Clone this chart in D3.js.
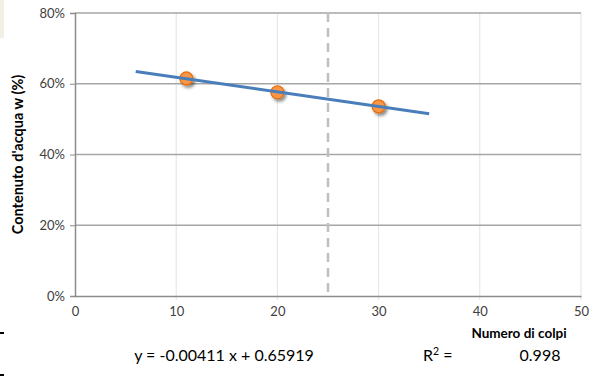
<!DOCTYPE html>
<html><head><meta charset="utf-8">
<script src="https://cdn.jsdelivr.net/npm/d3@7"></script>
<style>html,body{margin:0;padding:0;background:#fff;}svg{display:block;font-family:Lato,"Liberation Sans",sans-serif;}</style>
</head><body>
<svg id="c" width="602" height="376"></svg>
<script>
const blows = [11, 20, 30];
const water = [0.615, 0.576, 0.536];
const trendX = [6, 35];
const slope = -0.00411, intercept = 0.65919;
const xTicks = [0, 10, 20, 30, 40, 50];
const yTicks = [0, 0.2, 0.4, 0.6, 0.8];
const refX = 25;
const eqText = "y = -0.00411 x + 0.65919";
const r2Value = "0.998";

const FONT = "Lato,'Liberation Sans',sans-serif";
const svg = d3.select("#c");
const x = d3.scaleLinear().domain([0, 50]).range([75, 581]);
const y = d3.scaleLinear().domain([0, 0.8]).range([296, 13]);

// decorative edge marks
svg.append("rect").attr("x",0).attr("y",0).attr("width",4).attr("height",38).attr("fill","#f2f0e4");
svg.append("rect").attr("x",0).attr("y",332).attr("width",4).attr("height",2).attr("fill","#000");
svg.append("rect").attr("x",0).attr("y",374).attr("width",4).attr("height",2).attr("fill","#000");

const defs = svg.append("defs");
const f = defs.append("filter").attr("id","sh").attr("x","-50%").attr("y","-50%").attr("width","200%").attr("height","200%");
f.append("feDropShadow").attr("dx",2).attr("dy",2.5).attr("stdDeviation",1.6).attr("flood-color","#000").attr("flood-opacity",0.45);

// vertical gridlines
svg.append("g").selectAll("line").data(xTicks.slice(1)).join("line")
  .attr("x1",d=>x(d)).attr("x2",d=>x(d)).attr("y1",y(0.8)).attr("y2",y(0)+4)
  .attr("stroke","#e3e3e3").attr("stroke-width",1);
// horizontal gridlines
svg.append("g").selectAll("line").data(yTicks.slice(1)).join("line")
  .attr("x1",x(0)).attr("x2",x(50)).attr("y1",d=>y(d)).attr("y2",d=>y(d))
  .attr("stroke","#a6a6a6").attr("stroke-width",1.3);

// axes
const yAxis = svg.append("g").attr("transform",`translate(${x(0)},0)`)
  .call(d3.axisLeft(y).tickValues(yTicks).tickFormat(d3.format(".0%")).tickSize(5).tickPadding(5));
const xAxis = svg.append("g").attr("transform",`translate(0,${y(0)})`)
  .call(d3.axisBottom(x).tickValues(xTicks).tickSize(0).tickPadding(11));
[yAxis,xAxis].forEach(g=>{
  g.select(".domain").attr("stroke","#8c8c8c").attr("stroke-width",1.5);
  g.selectAll(".tick line").attr("stroke","#8c8c8c").attr("stroke-width",1);
  g.selectAll("text").attr("fill","#404040").style("font-size","13px").style("font-family",FONT);
});

// reference dashed line
svg.append("line").attr("x1",x(refX)).attr("x2",x(refX)).attr("y1",y(0.8)).attr("y2",y(0))
  .attr("stroke","#bfbfbf").attr("stroke-width",2.5).attr("stroke-dasharray","9,6");

// markers
svg.append("g").selectAll("circle").data(blows.map((b,i)=>[b,water[i]])).join("circle")
  .attr("cx",d=>x(d[0])).attr("cy",d=>y(d[1])).attr("r",6.5)
  .attr("fill","#f79646").attr("stroke","#e46c0a").attr("stroke-width",1.2).attr("filter","url(#sh)");

// trendline
svg.append("path").datum(trendX.map(t=>[t, slope*t+intercept]))
  .attr("d", d3.line().x(d=>x(d[0])).y(d=>y(d[1])))
  .attr("stroke","#4a7ebb").attr("stroke-width",3).attr("fill","none");

// titles
svg.append("text").attr("transform",`translate(23,${(y(0)+y(0.8))/2}) rotate(-90)`)
  .attr("text-anchor","middle").attr("font-weight","bold").attr("font-size","14.5px").attr("fill","#000")
  .text("Contenuto d'acqua w (%)");
svg.append("text").attr("x",519).attr("y",338).attr("text-anchor","middle")
  .attr("font-weight","bold").attr("font-size","13.5px").attr("fill","#000").text("Numero di colpi");

svg.append("text").attr("x",224).attr("y",361).attr("text-anchor","middle")
  .attr("font-size","16px").attr("fill","#000").text(eqText);
const r = svg.append("text").attr("x",423).attr("y",361).attr("font-size","16px").attr("fill","#000");
r.append("tspan").text("R");
r.append("tspan").attr("dy",-6).attr("font-size","10.5px").text("2");
r.append("tspan").attr("dy",6).text(" =");
svg.append("text").attr("x",540).attr("y",361).attr("text-anchor","middle")
  .attr("font-size","16px").attr("fill","#000").text(r2Value);
</script>
</body></html>
